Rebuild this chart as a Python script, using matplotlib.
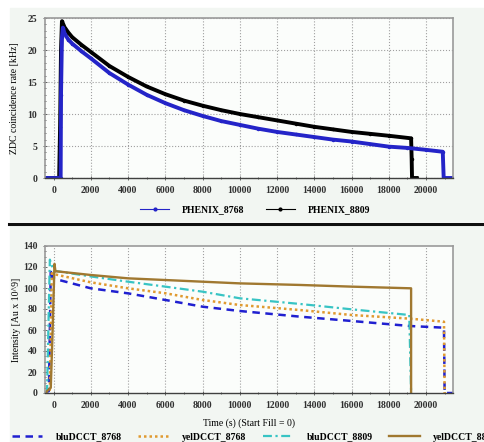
import matplotlib.pyplot as plt
from matplotlib.patches import Rectangle
from matplotlib.lines import Line2D
from matplotlib.ticker import MultipleLocator

# top panel: ZDC coincidence rate [kHz]
zdc_8768_t = [-460, 380, 400, 450, 500, 600, 800, 1000, 1500, 2000, 3000,
              4000, 5000, 6000, 7000, 8000, 9000, 10000, 11000, 12000, 13000,
              14000, 15000, 16000, 17000, 18000, 19000, 20000, 20900, 20950,
              21450]
zdc_8768_v = [0, 0, 13, 22, 23.5, 22.5, 21.6, 21, 19.8, 18.7, 16.4,
              14.6, 13.0, 11.7, 10.6, 9.7, 8.9, 8.3, 7.7, 7.2, 6.8,
              6.4, 6.0, 5.7, 5.3, 4.9, 4.7, 4.4, 4.1, 0,
              0]

zdc_8809_t = [-460, 300, 350, 400, 450, 600, 800, 1000, 1500, 2000, 3000,
              4000, 5000, 6000, 7000, 8000, 9000, 10000, 11000, 12000, 13000,
              14000, 15000, 16000, 17000, 18000, 19200, 19230, 19250, 19500]
zdc_8809_v = [0, 0, 8, 20, 24.5, 23.5, 22.7, 22, 20.8, 19.7, 17.5,
              15.8, 14.3, 13.1, 12.1, 11.3, 10.6, 10.0, 9.5, 9.0, 8.5,
              8.0, 7.6, 7.2, 6.9, 6.6, 6.2, 3, 0, 0]

# bottom panel: DCCT intensity [Au x 10^9]
blu_8768_t = [-460, -250, -150, 0, 2000, 4000, 6000, 8000, 10000, 13235,
              16000, 19140, 20966, 21000, 21450]
blu_8768_v = [0, 2, 118, 109, 99.7, 94.9, 88.6, 82.2, 78.1, 72.7,
              68.6, 63.8, 62.2, 0, 0]

yel_8768_t = [-460, -200, -100, 0, 2000, 4000, 6000, 8000, 10000, 13235,
              16000, 19140, 20966, 21000]
yel_8768_v = [0, 3, 114, 113.3, 105.4, 99.7, 95, 88.6, 83.8, 79,
              74.3, 70.8, 67.9, 0]

blu_8809_t = [-460, -350, -200, 0, 2000, 4000, 6000, 8000, 10000, 13235,
              16000, 19100, 19200]
blu_8809_v = [0, 2, 127, 116.5, 111, 106, 101.3, 96.5, 90.2, 84.8,
              79.7, 74.3, 0]

yel_8809_t = [-460, -150, -50, 50, 100, 2000, 4000, 6000, 8000, 10000,
              13235, 16000, 19200, 19200]
yel_8809_v = [0, 5, 60, 123, 116, 112.4, 109.2, 107.6, 106, 104.4,
              102.9, 101.3, 99.7, 0]

XLIM = (-460, 21450)
FONT = ["Liberation Serif", "DejaVu Serif"]

plt.rcParams["font.family"] = FONT
plt.rcParams["font.weight"] = "bold"
plt.rcParams["font.size"] = 7

fig = plt.figure(figsize=(4.85, 4.42), dpi=100, facecolor="white")

panel_color = "#f2f6f2"
fig.patches.append(Rectangle((10 / 485, 1 - 221 / 442), 475 / 485, 213 / 442,
                             transform=fig.transFigure, color=panel_color,
                             zorder=-10))
fig.patches.append(Rectangle((10 / 485, 0), 475 / 485, 1 - 226 / 442,
                             transform=fig.transFigure, color=panel_color,
                             zorder=-10))
fig.lines.append(Line2D([9 / 485, 1], [1 - 223.5 / 442] * 2,
                        transform=fig.transFigure, color="#101010", lw=2.2,
                        zorder=-5))


def style_axes(ax, ygrid):
    ax.set_facecolor("#fbfdfb")
    ax.set_xlim(*XLIM)
    ax.xaxis.set_major_locator(MultipleLocator(2000))
    ax.xaxis.set_minor_locator(MultipleLocator(1000))
    ax.grid(True, axis="x", which="major", linestyle=":", color="#a0a0a0", lw=0.8)
    if ygrid:
        ax.grid(True, axis="y", which="major", linestyle=":", color="#a0a0a0", lw=0.8)
    for side in ["top", "right", "left"]:
        ax.spines[side].set_color("#9a9a9a")
        ax.spines[side].set_linewidth(1.2)
    ax.spines["bottom"].set_color("#404040")
    ax.spines["bottom"].set_linewidth(1.0)
    ax.tick_params(which="both", direction="inout", length=3, width=0.6,
                   color="#505050", labelcolor="#303030", labelsize=7, pad=4)
    ax.tick_params(which="minor", length=2)
    ax.set_axisbelow(True)


# top panel
ax1 = fig.add_axes([45 / 485, 1 - 178 / 442, 408 / 485, 160 / 442])
style_axes(ax1, True)
ax1.set_ylim(0, 25)
ax1.yaxis.set_major_locator(MultipleLocator(5))
ax1.yaxis.set_minor_locator(MultipleLocator(1))
ax1.plot(zdc_8809_t, zdc_8809_v, color="black", lw=2.8, marker=".", ms=3,
         label="PHENIX_8809")
ax1.plot(zdc_8768_t, zdc_8768_v, color="#2424c8", lw=2.8, marker=".", ms=3,
         label="PHENIX_8768")
ax1.set_ylabel("ZDC coincidence rate [kHz]", fontsize=7, labelpad=6)

h1 = [Line2D([], [], color="#2424c8", lw=0.8, marker=".", ms=4),
      Line2D([], [], color="black", lw=0.8, marker=".", ms=4)]
fig.legend(h1, ["PHENIX_8768", "PHENIX_8809"], loc="center", ncol=2,
           bbox_to_anchor=(255 / 485, 1 - 210 / 442), frameon=False,
           handlelength=3.0, handletextpad=1.3, columnspacing=2.2,
           borderpad=0, fontsize=7)

# bottom panel
ax2 = fig.add_axes([45 / 485, 1 - 393 / 442, 408 / 485, 147 / 442])
style_axes(ax2, False)
ax2.set_ylim(0, 140)
ax2.yaxis.set_major_locator(MultipleLocator(20))
ax2.yaxis.set_minor_locator(MultipleLocator(5))
ax2.plot(blu_8768_t, blu_8768_v, color="#2020d0", lw=1.8, ls=(0, (3, 2.2)),
         label="bluDCCT_8768")
ax2.plot(yel_8768_t, yel_8768_v, color="#e09a30", lw=1.8, ls=(0, (1, 1.2)),
         label="yelDCCT_8768")
ax2.plot(blu_8809_t, blu_8809_v, color="#38c4c4", lw=1.6,
         ls=(0, (4, 1.6, 1, 1.6)), label="bluDCCT_8809")
ax2.plot(yel_8809_t, yel_8809_v, color="#a07830", lw=1.7, ls="-",
         label="yelDCCT_8809")
ax2.set_ylabel("Intensity [Au x 10^9]", fontsize=7, labelpad=1)
ax2.set_xlabel("Time (s) (Start Fill = 0)", fontsize=7, labelpad=6)

h2, l2 = ax2.get_legend_handles_labels()
fig.legend(h2, l2, loc="center left", ncol=4,
           bbox_to_anchor=(12 / 485, 1 - 437 / 442), frameon=False,
           handlelength=3.1, handletextpad=1.4, columnspacing=1.7,
           borderpad=0, borderaxespad=0, fontsize=7)

fig.savefig("out.png", dpi=100, facecolor="white")
